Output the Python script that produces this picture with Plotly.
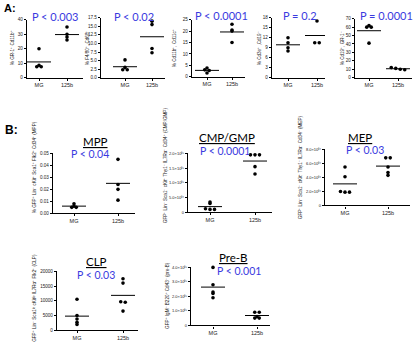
import plotly.graph_objects as go

# ---------------- data ----------------
groups = ["MG", "125b"]

gr1_mg = [20, 8.5, 7.5, 7.5]
gr1_125b = [35, 30, 28, 26]
f480_mg = [5.2, 3.0, 2.3, 2.3]
f480_125b = [16.5, 15.5, 8.5, 7.3]
cd11c_mg = [3.8, 3.0, 2.7, 1.6]
cd11c_125b = [23, 20.5, 20, 15]
cd3e_mg = [12, 10.5, 9, 8]
cd3e_125b = [17, 10.5, 10.5]
cd19_mg = [62, 60, 60, 41]
cd19_125b = [12, 11, 10, 9.5]

mpp_mg = [0.008, 0.006, 0.005, 0.005]
mpp_125b = [0.045, 0.024, 0.020, 0.011]
cmp_mg = [35000, 30000, 12000, 10000, 10000]
cmp_125b = [195000, 195000, 195000, 155000, 130000]
mep_mg = [55000, 41000, 20000, 19000, 19000]
mep_125b = [68000, 68000, 55000, 47000, 43000]
clp_mg = [10500, 5000, 3800, 2700, 2000]
clp_125b = [17500, 16000, 9700, 9500, 6500]
preb_mg = [400000, 280000, 230000, 220000, 190000]
preb_125b = [90000, 90000, 60000, 50000, 50000]

pvals = ["P < 0.003", "P < 0.02", "P < 0.0001", "P = 0.2", "P = 0.0001",
         "P < 0.04", "P < 0.0001", "P < 0.03", "P < 0.03", "P < 0.001"]
b_titles = ["MPP", "CMP/GMP", "MEP", "CLP", "Pre-B"]

ylabels = ["% GR-1⁺ Cd11b⁺", "% F4/80⁺, Cd68⁺", "% Cd11b⁺, Cd11c⁺", "% Cd3e⁺ ,Cd19⁻", "% Cd19⁺, GR-1⁻",
           "% GFP⁺ Lin⁻ cKit⁺ Sca1⁺ Flk2⁺ Cd34⁺ (MPP)",
           "GFP⁺ Lin⁻ Sca1⁻ cKit⁺ Thy1⁻ IL7Rα⁻ Cd34⁺ (CMP/GMP)",
           "GFP⁺ Lin⁻ Sca1⁻ cKit⁺ Thy1⁻ IL7Rα⁻ Cd34⁻ (MEP)",
           "GFP⁺ Lin⁻ Sca1ˡᵒ cKitˡᵒ IL7Rα⁺ Flk2⁺ (CLP)",
           "GFP⁺ IgM⁻ B220⁺ Cd43⁻ (pre-B)"]

ticks = [
    ([0, 10, 20, 30, 40], ["0", "10", "20", "30", "40"]),
    ([0, 2.5, 5, 7.5, 10, 12.5, 15, 17.5], ["0.0", "2.5", "5.0", "7.5", "10.0", "12.5", "15.0", "17.5"]),
    ([0, 5, 10, 15, 20, 25], ["0", "5", "10", "15", "20", "25"]),
    ([0, 3, 6, 9, 12, 15, 18], ["0", "3", "6", "9", "12", "15", "18"]),
    ([0, 10, 20, 30, 40, 50, 60, 70], ["0", "10", "20", "30", "40", "50", "60", "70"]),
    ([0, 0.01, 0.02, 0.03, 0.04, 0.05], ["0.00", "0.01", "0.02", "0.03", "0.04", "0.05"]),
    ([0, 50000, 100000, 150000, 200000], ["0", "5.0×10⁰⁴", "1.0×10⁰⁵", "1.5×10⁰⁵", "2.0×10⁰⁵"]),
    ([0, 20000, 40000, 60000, 80000], ["0", "2.0×10⁰⁴", "4.0×10⁰⁴", "6.0×10⁰⁴", "8.0×10⁰⁴"]),
    ([0, 5000, 10000, 15000, 20000], ["0", "5000", "10000", "15000", "20000"]),
    ([0, 100000, 200000, 300000, 400000], ["0", "1.0×10⁰⁵", "2.0×10⁰⁵", "3.0×10⁰⁵", "4.0×10⁰⁵"]),
]

series = [(gr1_mg, gr1_125b), (f480_mg, f480_125b), (cd11c_mg, cd11c_125b), (cd3e_mg, cd3e_125b),
          (cd19_mg, cd19_125b), (mpp_mg, mpp_125b), (cmp_mg, cmp_125b), (mep_mg, mep_125b),
          (clp_mg, clp_125b), (preb_mg, preb_125b)]

# ---------------- layout (pixels) ----------------
W, H = 416, 349
# x0 (y-axis), x1 (axis end), ytop, ybottom, MG px, 125b px
panels = [
    (27, 83, 17, 76, 39, 67),
    (101, 165, 15, 76, 125, 152),
    (192, 245, 17, 75, 207, 232),
    (272, 325, 15, 76, 288, 317),
    (355, 412, 16, 76, 369, 398),
    (53, 135, 153, 214, 74, 118),
    (188, 272, 153, 213, 210, 255),
    (325, 410, 149, 206, 345, 388),
    (57, 138, 273, 333, 77, 123),
    (191, 270, 269, 328, 213, 257),
]
pval_pos = [(55, 14), (134, 14), (221, 13), (300, 13), (386, 13),
            (90, 154), (225, 151), (365, 150), (96, 277), (239, 273)]
title_pos = [(95, 141), (227, 137), (360, 137), (96, 263), (233, 259)]
ylab_pos = [(12, 46), (87, 46), (174, 46), (259, 46), (342, 46),
            (34, 167), (165, 165), (300, 167), (35, 300), (168, 298)]

def px(x):
    return x / W

def py(y):
    return 1 - y / H

fig = go.Figure()
annotations = []
for i, (x0, x1, yt, yb, pmg, pb) in enumerate(panels):
    k = "" if i == 0 else str(i + 1)
    unit = pb - pmg
    xr = [-(pmg - x0) / unit, 1 + (x1 - pb) / unit]
    tv, tt = ticks[i]
    ymax = tv[-1]
    thresh = 0.02 * ymax
    for gi, vals in enumerate(series[i]):
        # simple beeswarm-like spreading for near-equal values
        sv = sorted(vals, reverse=True)
        clusters = [[sv[0]]]
        for v in sv[1:]:
            if abs(clusters[-1][-1] - v) < thresh:
                clusters[-1].append(v)
            else:
                clusters.append([v])
        xs, ys = [], []
        for c in clusters:
            n = len(c)
            for j, v in enumerate(c):
                xs.append(gi + (j - (n - 1) / 2) * 4.5 / unit)
                ys.append(v)
        fig.add_trace(go.Scatter(x=xs, y=ys, mode="markers", xaxis="x" + k, yaxis="y" + k,
                                 marker=dict(color="black", size=3.6), cliponaxis=False,
                                 hoverinfo="skip"))
        m = sum(vals) / len(vals)
        hw = 12 / unit
        fig.add_trace(go.Scatter(x=[gi - hw, gi + hw], y=[m, m], mode="lines",
                                 xaxis="x" + k, yaxis="y" + k,
                                 line=dict(color="black", width=1), hoverinfo="skip"))
    tfs = 4.6 if i < 6 or i == 8 else 4.0
    fig.update_layout(**{
        "xaxis" + k: dict(domain=[px(x0), px(x1)], range=xr, anchor="y" + k,
                          tickvals=[0, 1], ticktext=groups, ticks="outside", ticklen=2,
                          tickcolor="black", showline=True, linecolor="black", linewidth=1.3,
                          showgrid=False, zeroline=False,
                          tickfont=dict(size=5.5, color="#222", family="Liberation Sans")),
        "yaxis" + k: dict(domain=[py(yb), py(yt)], range=[0, ymax], anchor="x" + k,
                          tickvals=tv, ticktext=tt, ticks="outside", ticklen=2,
                          tickcolor="black", showline=True, linecolor="black", linewidth=1.3,
                          showgrid=False, zeroline=False,
                          tickfont=dict(size=tfs, color="#222", family="Liberation Sans")),
    })
    xp, yp = pval_pos[i]
    annotations.append(dict(x=px(xp), y=py(yp), xref="paper", yref="paper", text=pvals[i],
                            showarrow=False, xanchor="center", yanchor="middle",
                            font=dict(size=11 if i < 5 else 10.5, color="#3a3ae0", family="Lato")))
    lx, ly = ylab_pos[i]
    annotations.append(dict(x=px(lx), y=py(ly), xref="paper", yref="paper", text=ylabels[i],
                            showarrow=False, xanchor="center", yanchor="middle", textangle=-90,
                            font=dict(size=4.6, color="#222", family="Liberation Sans")))

for j, t in enumerate(b_titles):
    tx, ty = title_pos[j]
    annotations.append(dict(x=px(tx), y=py(ty), xref="paper", yref="paper", text="<u>" + t + "</u>",
                            showarrow=False, xanchor="center", yanchor="middle",
                            font=dict(size=11.5, color="black", family="Lato")))

annotations.append(dict(x=px(2), y=py(5), xref="paper", yref="paper", text="<b>A:</b>",
                        showarrow=False, xanchor="left", yanchor="middle",
                        font=dict(size=11, color="black", family="Liberation Sans")))
annotations.append(dict(x=px(3), y=py(129), xref="paper", yref="paper", text="<b>B:</b>",
                        showarrow=False, xanchor="left", yanchor="middle",
                        font=dict(size=12, color="black", family="Liberation Sans")))

fig.update_layout(width=W, height=H, margin=dict(l=0, r=0, t=0, b=0), showlegend=False,
                  plot_bgcolor="white", paper_bgcolor="white", annotations=annotations)

fig.write_html("out.html")
